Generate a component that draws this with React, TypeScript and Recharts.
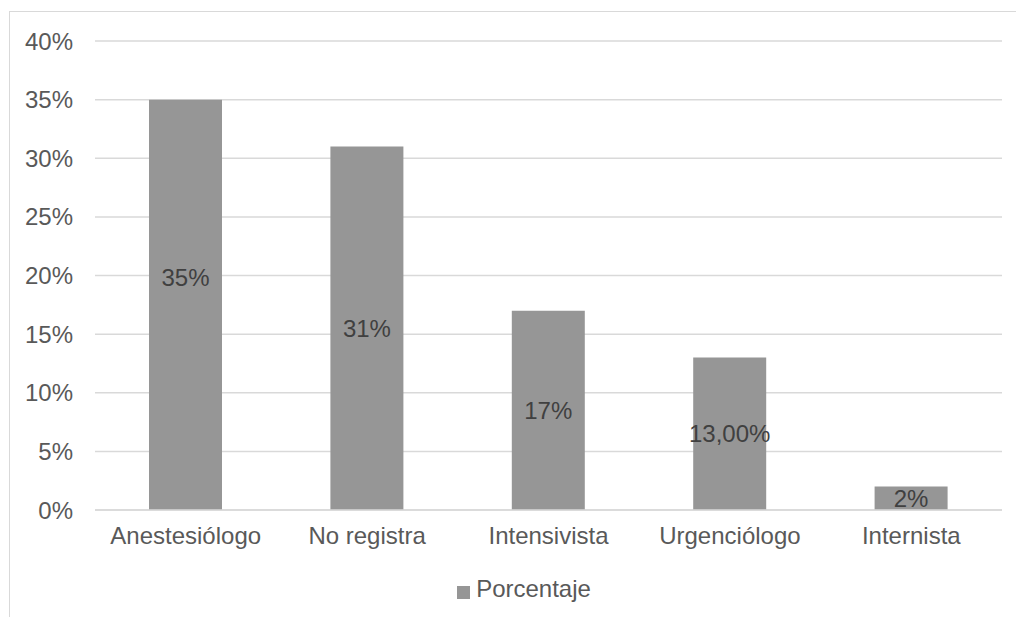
import { BarChart, Bar, XAxis, YAxis, CartesianGrid, Legend, LabelList } from 'recharts';

const categories = ['Anestesiólogo', 'No registra', 'Intensivista', 'Urgenciólogo', 'Internista'];
const porcentaje = [35, 31, 17, 13, 2];
const barLabels = ['35%', '31%', '17%', '13,00%', '2%'];
const yTicks = [0, 5, 10, 15, 20, 25, 30, 35, 40];

const data = categories.map((name, i) => ({ name, Porcentaje: porcentaje[i], label: barLabels[i] }));

const FONT = '"Liberation Sans", Arial, sans-serif';

// the first label sits a bit higher than the bar middle in the original
const CenterLabel = (props: any) => {
  const { x, y, width, height, index, value } = props;
  const shift = index === 0 ? -27 : 0;
  return (
    <text
      x={x + width / 2}
      y={y + height / 2 + shift}
      textAnchor="middle"
      dominantBaseline="central"
      fill="#404040"
      fontSize={24}
      fontFamily={FONT}
    >
      {value}
    </text>
  );
};

const App = () => {
  return (
    <div
      style={{
        position: 'absolute',
        left: 9,
        top: 11,
        width: 1015,
        height: 615,
        border: '1px solid #d9d9d9',
        background: '#fff',
        fontFamily: FONT,
      }}
    >
      <BarChart
        width={1015}
        height={615}
        data={data}
        margin={{ top: 29, right: 23, left: 0, bottom: 20 }}
      >
        <CartesianGrid vertical={false} stroke="#d9d9d9" strokeWidth={1.5} />
        <XAxis
          dataKey="name"
          height={64}
          tickLine={false}
          tickSize={0}
          tickMargin={17}
          axisLine={{ stroke: '#d9d9d9', strokeWidth: 1.5 }}
          tick={{ fill: '#595959', fontSize: 24, fontFamily: FONT }}
        />
        <YAxis
          width={85}
          domain={[0, 40]}
          ticks={yTicks}
          tickFormatter={(v: number) => `${v}%`}
          axisLine={false}
          tickLine={false}
          tickSize={0}
          tickMargin={22}
          tick={{ fill: '#595959', fontSize: 24, fontFamily: FONT }}
        />
        <Legend
          verticalAlign="bottom"
          iconType="square"
          iconSize={13}
          formatter={(v: string) => (
            <span style={{ color: '#595959', fontSize: 24, paddingLeft: 2 }}>{v}</span>
          )}
          wrapperStyle={{ lineHeight: '30px', left: 23 }}
        />
        <Bar dataKey="Porcentaje" fill="#969696" barSize={73} isAnimationActive={false}>
          <LabelList dataKey="label" content={CenterLabel} />
        </Bar>
      </BarChart>
    </div>
  );
};

export default App;
